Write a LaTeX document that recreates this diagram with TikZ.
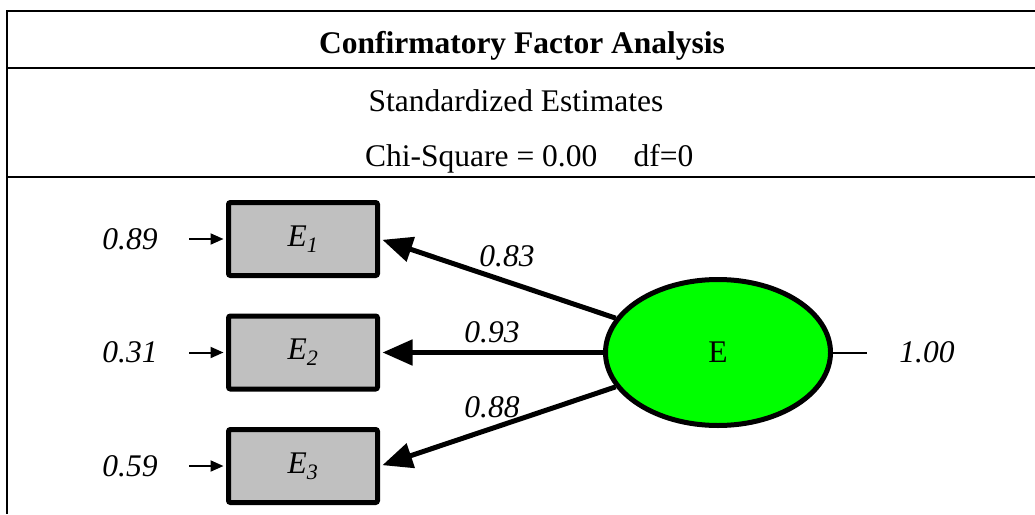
\documentclass[tikz,border=0pt]{standalone}
\usepackage{fontspec}
\setmainfont{Liberation Serif}
\usetikzlibrary{arrows.meta,shapes.geometric}
\definecolor{boxgray}{HTML}{C0C0C0}
\definecolor{latgreen}{HTML}{00FF00}
\begin{document}
\begin{tikzpicture}[x=1pt,y=-1pt,
  txt/.style={font=\fontsize{31.5}{36}\selectfont, inner sep=0pt},
  itxt/.style={font=\fontsize{31.5}{36}\selectfont\itshape, inner sep=0pt},
  obs/.style={draw, line width=5pt, fill=boxgray, rounded corners=2pt,
    minimum width=149pt, minimum height=73pt, inner sep=0pt,
    font=\fontsize{31.5}{36}\selectfont\itshape},
  lat/.style={ellipse, draw, line width=5pt, fill=latgreen,
    minimum width=225pt, minimum height=146pt, inner sep=0pt,
    font=\fontsize{31.5}{36}\selectfont},
  load/.style={line width=5pt, -{Triangle[length=30pt,width=25pt]}, shorten >=2.5pt},
  err/.style={line width=2pt, -{Triangle[length=13pt,width=11pt]}, shorten >=2.5pt},
  frame/.style={line width=2.5pt, line join=miter}]
\useasboundingbox (0,0) rectangle (1035,514);
% frame
\draw[frame] (1035,11) -- (7,11) -- (7,514);
\draw[frame] (7,68) -- (1035,68);
\draw[frame] (7,177) -- (1035,177);
% titles
\node[txt, font=\fontsize{31.5}{36}\selectfont\bfseries, anchor=base] (title) at (522,53) {Confirmatory Factor Analysis};
\node[txt, anchor=base] (sub) at (516,111) {Standardized Estimates};
\node[txt, anchor=base west] (chi) at (365,166) {Chi-Square = 0.00\hspace{0.9em} df=0};
% observed variables
\node[obs] (E1) at (303,239) {E\textsubscript{1}};
\node[obs] (E2) at (303,352.5) {E\textsubscript{2}};
\node[obs] (E3) at (303,466) {E\textsubscript{3}};
% latent
\node[lat] (E) at (718,352.5) {E};
% error terms
\node[itxt] (e1) at (130,239) {0.89};
\node[itxt] (e2) at (130,352.5) {0.31};
\node[itxt] (e3) at (130,466) {0.59};
\coordinate (s1) at (189,239);
\coordinate (s2) at (189,352.5);
\coordinate (s3) at (189,466);
\draw[err] (s1) -- (E1.west);
\draw[err] (s2) -- (E2.west);
\draw[err] (s3) -- (E3.west);
% loadings
\draw[load] (E) -- (E1.east);
\draw[load] (E) -- (E2.east);
\draw[load] (E) -- (E3.east);
\node[itxt] (l1) at (507,256) {0.83};
\node[itxt] (l2) at (492,332) {0.93};
\node[itxt] (l3) at (492,407) {0.88};
% variance
\coordinate (v) at (867,352.5);
\draw[line width=2pt] (E.east) -- (v);
\node[itxt] (var) at (927,352.5) {1.00};
\end{tikzpicture}
\end{document}
